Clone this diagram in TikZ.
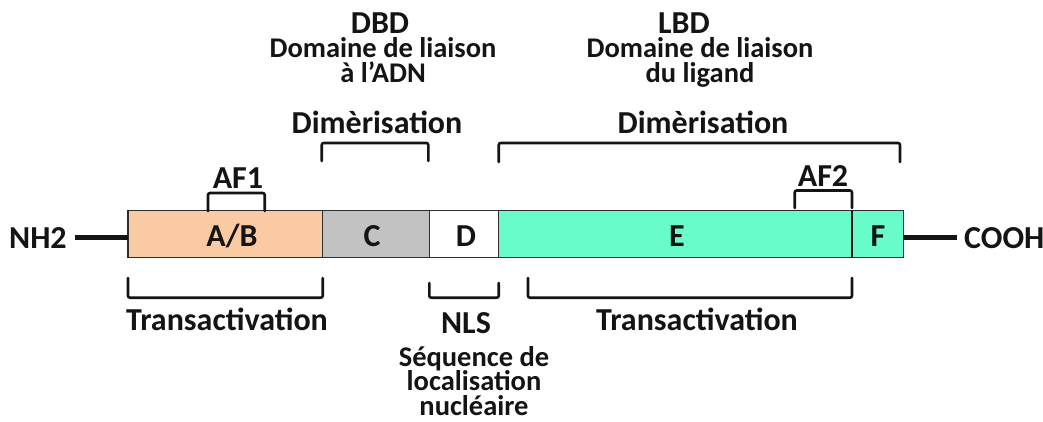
\documentclass[tikz,border=0pt]{standalone}
\usepackage{fontspec}
\setmainfont{Carlito}
\usetikzlibrary{calc}

\definecolor{peach}{RGB}{250,203,162}
\definecolor{greybox}{RGB}{194,194,194}
\definecolor{mint}{RGB}{104,252,202}
\definecolor{edge}{RGB}{45,45,45}
\definecolor{ink}{RGB}{20,20,20}

\tikzset{
  seg/.style={draw=edge, line width=1.3pt, minimum height=47pt, inner sep=0pt, outer sep=0pt, anchor=west},
  big/.style={font=\fontsize{32}{32}\selectfont\bfseries, text=ink, inner sep=0pt, anchor=base},
  small/.style={font=\fontsize{28.5}{24.6}\selectfont\bfseries, text=ink, inner sep=0pt, anchor=base, align=center},
  brk/.style={draw=ink, line width=2.6pt, rounded corners=2pt, line cap=round},
  tail/.style={draw=ink, line width=5pt},
}

\begin{document}
\begin{tikzpicture}[x=1pt, y=-1pt]
  \useasboundingbox (0,0) rectangle (1043,421);

  % domain bar
  \node[seg, fill=peach,   minimum width=194.7pt] (AB) at (128,234.2) {};
  \node[seg, fill=greybox, minimum width=106.6pt] (C)  at (AB.east) {};
  \node[seg, fill=white,   minimum width=69.4pt]  (D)  at (C.east) {};
  \node[seg, fill=mint,    minimum width=353.3pt] (E)  at (D.east) {};
  \node[seg, fill=mint,    minimum width=51.3pt]  (F)  at (E.east) {};
  \draw[line width=2pt, ink] (F.north west) -- (F.south west);

  % domain letters
  \node[big] (tAB) at (232,246.7) {A/B};
  \node[big] (tC)  at (372,246.7) {C};
  \node[big] (tD)  at (466,246.7) {D};
  \node[big] (tE)  at (677,246.7) {E};
  \node[big] (tF)  at (878,246.7) {F};

  % termini
  \node[big, anchor=base west] (NH2)  at (9,248) {NH2};
  \node[big, anchor=base west] (COOH) at (964,248) {COOH};
  \coordinate (tailL) at (74.7,237);
  \coordinate (tailR) at (956.7,237);
  \draw[tail] (AB.west |- tailL) -- (tailL);
  \draw[tail] (F.east |- tailR) -- (tailR);

  % brackets above the bar
  \draw[brk] (208,211) -- (208,193) -- (264.7,193) -- (264.7,211);
  \draw[brk] (794.7,208) -- (794.7,190.5) -- (852,190.5) -- (852,208);
  \draw[brk] (321.7,161) -- (321.7,143) -- (428.3,143) -- (428.3,161);
  \draw[brk] (498.7,162) -- (498.7,143) -- (900,143) -- (900,162);

  % brackets below the bar
  \draw[brk] (128,278) -- (128,297.7) -- (322.7,297.7) -- (322.7,278);
  \draw[brk] (429.3,283) -- (429.3,297.7) -- (498.7,297.7) -- (498.7,283);
  \draw[brk] (528,278) -- (528,297.7) -- (852,297.7) -- (852,278);

  % labels above (multi-line nodes sit on the baseline of their last line)
  \node[big] (AF1) at (238,188) {AF1};
  \node[big] (AF2) at (823,186.7) {AF2};
  \node[big] (dimL) at (377,133.3) {Dimèrisation};
  \node[big] (dimR) at (703,133.3) {Dimèrisation};
  \node[big] (DBD) at (380,33) {DBD};
  \node[big] (LBD) at (684,33) {LBD};
  \node[small] (DBDtxt) at (383,82) {Domaine de liaison\\à l’ADN};
  \node[small] (LBDtxt) at (700,82) {Domaine de liaison\\du ligand};

  % labels below
  \node[big] (transL) at (227,330) {Transactivation};
  \node[big] (transR) at (697,330) {Transactivation};
  \node[big] (NLS) at (466,333.3) {NLS};
  \node[small] (NLStxt) at (474,415.5) {Séquence de\\localisation\\nucléaire};
\end{tikzpicture}
\end{document}
